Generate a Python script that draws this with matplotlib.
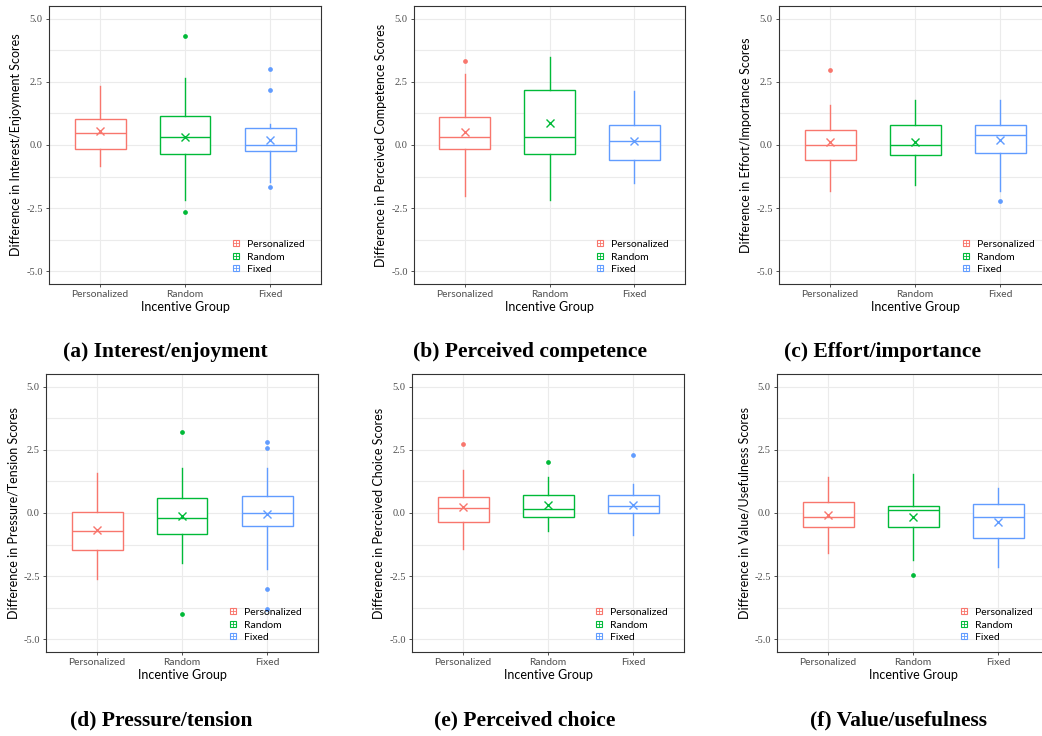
import matplotlib
matplotlib.use("Agg")
import matplotlib.pyplot as plt
from matplotlib.lines import Line2D
from matplotlib.legend_handler import HandlerTuple

groups = ["Personalized", "Random", "Fixed"]
colors = ["#F8766D", "#00BA38", "#619CFF"]

# per panel, per group: whisker low, Q1, median, Q3, whisker high, mean, outliers
interest = [
    (-0.83, -0.17, 0.49, 1.03, 2.33, 0.57, []),
    (-2.18, -0.34, 0.33, 1.16, 2.65, 0.33, [4.33, -2.66]),
    (-1.45, -0.25, 0.00, 0.66, 0.82, 0.21, [2.99, 2.16, -1.68]),
]
competence = [
    (-2.00, -0.17, 0.33, 1.11, 2.81, 0.53, [3.32]),
    (-2.18, -0.34, 0.33, 2.16, 3.47, 0.86, []),
    (-1.50, -0.61, 0.16, 0.80, 2.15, 0.16, []),
]
effort = [
    (-1.81, -0.61, 0.00, 0.58, 1.58, 0.10, [2.98]),
    (-1.60, -0.40, 0.00, 0.78, 1.78, 0.13, []),
    (-1.81, -0.30, 0.40, 0.78, 1.78, 0.21, [-2.20]),
]
pressure = [
    (-2.60, -1.46, -0.71, 0.03, 1.57, -0.66, []),
    (-1.99, -0.82, -0.21, 0.58, 1.77, -0.11, [3.19, -4.01]),
    (-2.20, -0.50, 0.00, 0.69, 1.77, -0.03, [2.80, 2.59, -3.00, -3.80]),
]
choice = [
    (-1.44, -0.37, 0.21, 0.63, 1.70, 0.24, [2.72]),
    (-0.73, -0.15, 0.15, 0.70, 1.41, 0.33, [2.00]),
    (-0.86, 0.00, 0.28, 0.70, 1.13, 0.32, [2.28]),
]
value = [
    (-1.57, -0.57, -0.16, 0.45, 1.41, -0.08, []),
    (-1.86, -0.57, 0.12, 0.28, 1.54, -0.16, [-2.44]),
    (-2.14, -1.00, -0.16, 0.34, 0.99, -0.34, []),
]

panels = [
    (interest, "Difference in Interest/Enjoyment Scores", "(a) Interest/enjoyment"),
    (competence, "Difference in Perceived Competence Scores", "(b) Perceived competence"),
    (effort, "Difference in Effort/Importance Scores", "(c) Effort/importance"),
    (pressure, "Difference in Pressure/Tension Scores", "(d) Pressure/tension"),
    (choice, "Difference in Perceived Choice Scores", "(e) Perceived choice"),
    (value, "Difference in Value/Usefulness Scores", "(f) Value/usefulness"),
]

# axes rectangles in figure pixels: left, bottom(from top), width, height
W, H = 1042, 736
rects = [
    (49, 284, 272, 278), (414, 284, 271, 278), (779, 284, 272, 278),
    (46, 652, 272, 278), (412, 652, 272, 278), (777, 652, 272, 278),
]
cap_pos = [(165, 352), (530, 352), (882, 352), (161, 720), (525, 720), (898, 720)]

sans = "Lato"
fig = plt.figure(figsize=(W / 100, H / 100), dpi=100)

for (data, ylab, cap), (l, b, w, h), (cx, cy) in zip(panels, rects, cap_pos):
    ax = fig.add_axes([l / W, 1 - b / H, w / W, h / H])
    stats = []
    for g, (lo, q1, med, q3, hi, mean, fl) in zip(groups, data):
        stats.append(dict(label=g, whislo=lo, q1=q1, med=med, q3=q3,
                          whishi=hi, mean=mean, fliers=fl))
    for i, s in enumerate(stats):
        c = colors[i]
        ax.bxp([s], positions=[i + 1], widths=0.6, showcaps=False,
               showmeans=True, patch_artist=True, manage_ticks=False,
               boxprops=dict(facecolor="white", edgecolor=c, linewidth=1.0),
               whiskerprops=dict(color=c, linewidth=1.0),
               medianprops=dict(color=c, linewidth=1.0),
               meanprops=dict(marker="x", markeredgecolor=c, markersize=6,
                              markeredgewidth=1.0),
               flierprops=dict(marker="o", markerfacecolor=c, markeredgecolor=c,
                               markersize=2.4))
    ax.set_xlim(0.4, 3.6)
    ax.set_ylim(-5.5, 5.5)
    ax.set_xticks([1, 2, 3])
    ax.set_xticklabels(groups, fontfamily=sans, fontsize=7.4, color="#4d4d4d")
    ax.set_yticks([-5, -2.5, 0, 2.5, 5])
    ax.set_yticklabels(["-5.0", "-2.5", "0.0", "2.5", "5.0"],
                       fontfamily="Liberation Serif", fontsize=7.5, color="#4d4d4d")
    ax.set_yticks([-3.75, -1.25, 1.25, 3.75], minor=True)
    ax.tick_params(which="major", length=2.5, width=0.6, color="#333333", pad=2)
    ax.tick_params(which="minor", length=0)
    ax.grid(True, which="major", color="#ebebeb", linewidth=0.8)
    ax.grid(True, which="minor", axis="y", color="#ebebeb", linewidth=0.8)
    ax.set_axisbelow(True)
    for sp in ax.spines.values():
        sp.set_color("#333333")
        sp.set_linewidth(0.8)
    ax.set_xlabel("Incentive Group", fontfamily=sans, fontsize=9, labelpad=1)
    ax.set_ylabel(ylab, fontfamily=sans, fontsize=9, labelpad=3)

    handles = []
    for c in colors:
        handles.append((Line2D([], [], marker="s", linestyle="none", markersize=5,
                               markerfacecolor="white", markeredgecolor=c,
                               markeredgewidth=0.8),
                        Line2D([], [], marker="+", linestyle="none", markersize=5,
                               markeredgecolor=c, markeredgewidth=0.6)))
    ax.legend(handles, groups, handler_map={tuple: HandlerTuple(ndivide=1, pad=0)},
              loc="lower left", bbox_to_anchor=(0.64, 0.01), frameon=False,
              prop=dict(family=sans, size=7.5), handlelength=1.0, handletextpad=0.6,
              labelspacing=0.3, borderpad=0.2)

    fig.text(cx / W, 1 - cy / H, cap, ha="center", va="center",
             fontfamily="Liberation Serif", fontweight="bold", fontsize=15.5)

fig.savefig("out.png", dpi=100)
